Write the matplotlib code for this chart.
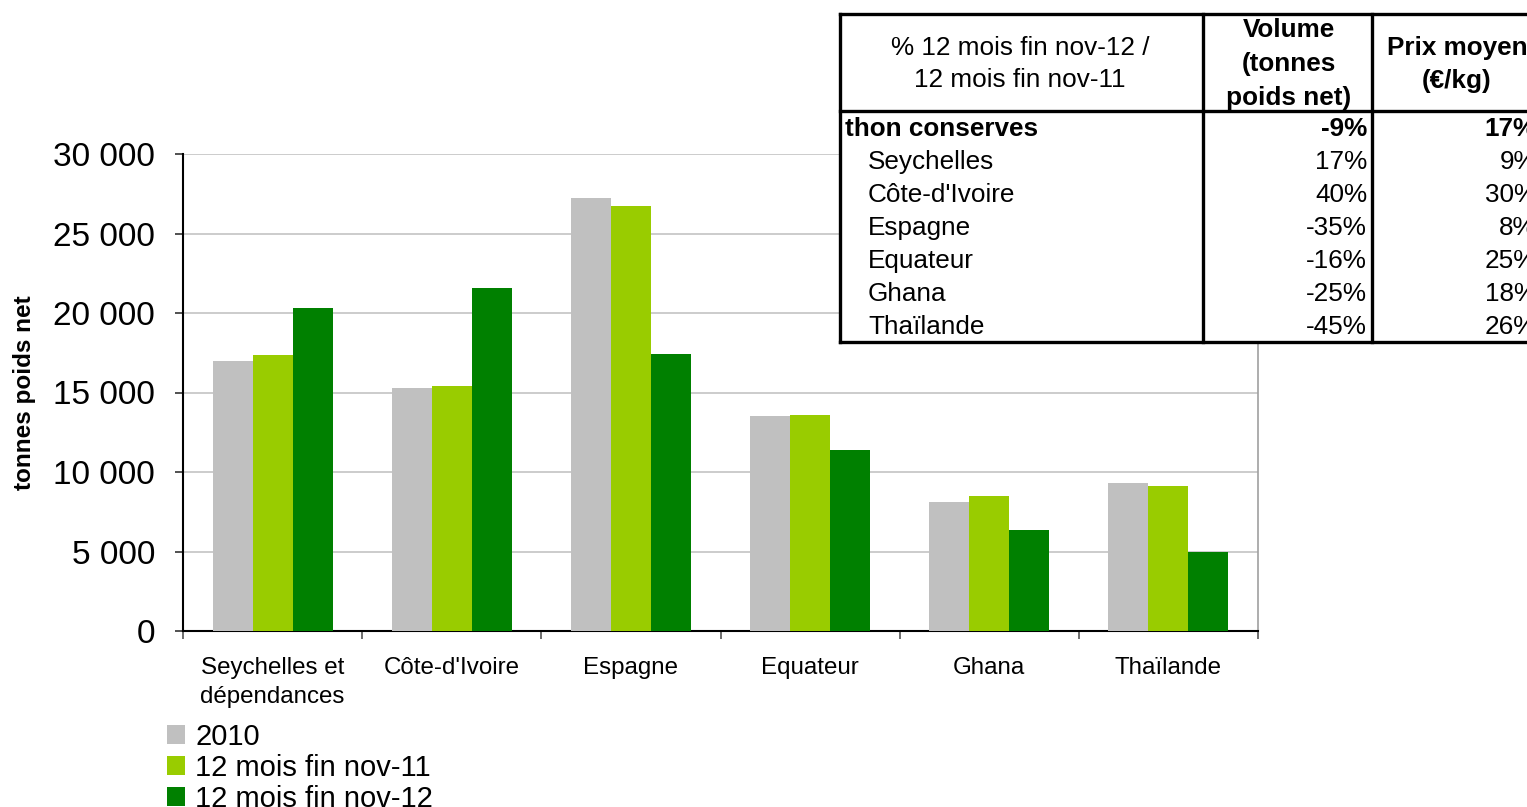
import matplotlib
matplotlib.use("Agg")
import matplotlib.pyplot as plt
import numpy as np
from matplotlib.patches import Rectangle, Patch

plt.rcParams['font.family'] = ['Liberation Sans', 'DejaVu Sans']

categories = ["Seychelles et\ndépendances", "Côte-d'Ivoire", "Espagne", "Equateur", "Ghana", "Thaïlande"]
series_names = ["2010", "12 mois fin nov-11", "12 mois fin nov-12"]
v2010 = [17000, 15300, 27250, 13520, 8120, 9300]
v_nov11 = [17350, 15420, 26750, 13580, 8480, 9120]
v_nov12 = [20300, 21580, 17420, 11380, 6350, 4970]
colors = ["#C0C0C0", "#99CC00", "#008000"]
y_ticks = [0, 5000, 10000, 15000, 20000, 25000, 30000]
y_label = "tonnes poids net"

table_title = ["% 12 mois fin nov-12 /", "12 mois fin nov-11"]
table_col2_head = ["Volume", "(tonnes", "poids net)"]
table_col3_head = ["Prix moyen", "(€/kg)"]
table_rows = ["thon conserves", "Seychelles", "Côte-d'Ivoire", "Espagne", "Equateur", "Ghana", "Thaïlande"]
table_volume = ["-9%", "17%", "40%", "-35%", "-16%", "-25%", "-45%"]
table_price = ["17%", "9%", "30%", "8%", "25%", "18%", "26%"]

W, H = 1527, 807
fig = plt.figure(figsize=(W / 100, H / 100), dpi=100)
ax = fig.add_axes([183 / W, 1 - 631 / H, (1258 - 183) / W, (631 - 154) / H])

x = np.arange(len(categories))
bw = 0.223
for i, (vals, c, name) in enumerate(zip([v2010, v_nov11, v_nov12], colors, series_names)):
    ax.bar(x + (i - 1) * bw, vals, width=bw, color=c, label=name, zorder=3)

ax.set_xlim(-0.5, len(categories) - 0.5)
ax.set_ylim(0, 30000)
ax.set_yticks(y_ticks)
ax.set_yticklabels([f"{v:,}".replace(",", " ") for v in y_ticks], fontsize=24)
ax.yaxis.grid(True, color="#C8C8C8", linewidth=1.3, zorder=0)
ax.set_axisbelow(True)
ax.tick_params(axis='y', direction='out', length=6, width=1.2, pad=14, color="#333333")

ax.set_xticks(x)
ax.set_xticklabels(categories, fontsize=17.4, linespacing=1.4)
ax.tick_params(axis='x', which='major', length=0, pad=19)
ax.set_xticks(np.arange(-0.5, len(categories)), minor=True)
ax.tick_params(axis='x', which='minor', direction='out', length=6, width=1.2, color="#555555")

for s in ['left', 'bottom']:
    ax.spines[s].set_color("black")
    ax.spines[s].set_linewidth(1.5)
ax.spines['top'].set_visible(False)
ax.spines['right'].set_color("#A0A0A0")
ax.spines['right'].set_linewidth(1.2)

fig.text(25 / W, 1 - 393 / H, y_label, rotation=90, fontsize=17.5, fontweight='bold',
         ha='center', va='center')

handles = [Patch(facecolor=c, edgecolor='none') for c in colors]
fig.legend(handles, series_names, loc='upper left', bbox_to_anchor=(167 / W, 1 - 723 / H),
           frameon=False, fontsize=21, handlelength=0.62, handleheight=0.62,
           handletextpad=0.35, labelspacing=0.1, borderpad=0, borderaxespad=0)

# overlay table in pixel coordinates
ov = fig.add_axes([0, 0, 1, 1], zorder=10)
ov.set_xlim(0, W)
ov.set_ylim(H, 0)
ov.axis('off')
ov.patch.set_alpha(0)

tx0, tx1, tx2, tx3 = 840, 1203, 1372, 1560
ty0, ty1, ty2 = 14, 111, 342
ov.add_patch(Rectangle((tx0, ty0), tx3 - tx0, ty2 - ty0, facecolor='white', edgecolor='none'))
lw = 2.4
ov.plot([tx0, tx3], [ty0, ty0], color='black', lw=lw, solid_capstyle='projecting')
ov.plot([tx0, tx3], [ty1, ty1], color='black', lw=lw)
ov.plot([tx0, tx3], [ty2, ty2], color='black', lw=lw, solid_capstyle='projecting')
for xx in (tx0, tx1, tx2):
    ov.plot([xx, xx], [ty0, ty2], color='black', lw=lw, solid_capstyle='projecting')

fs = 18.8
ov.text(1020, 48, table_title[0], fontsize=fs, ha='center', va='center')
ov.text(1020, 80, table_title[1], fontsize=fs, ha='center', va='center')
for j, t in enumerate(table_col2_head):
    ov.text(1289, 30 + j * 34, t, fontsize=fs, fontweight='bold', ha='center', va='center')
for j, t in enumerate(table_col3_head):
    ov.text(1457, 48 + j * 33, t, fontsize=fs, fontweight='bold', ha='center', va='center')

for r, (name, vol, pr) in enumerate(zip(table_rows, table_volume, table_price)):
    yy = 129 + r * 33
    bold = 'bold' if r == 0 else 'normal'
    xl = 845 if r == 0 else 868
    ov.text(xl, yy, name, fontsize=fs, fontweight=bold, ha='left', va='center')
    ov.text(1367, yy, vol, fontsize=fs, fontweight=bold, ha='right', va='center')
    ov.text(1537, yy, pr, fontsize=fs, fontweight=bold, ha='right', va='center')

fig.savefig("out.png", dpi=100)
